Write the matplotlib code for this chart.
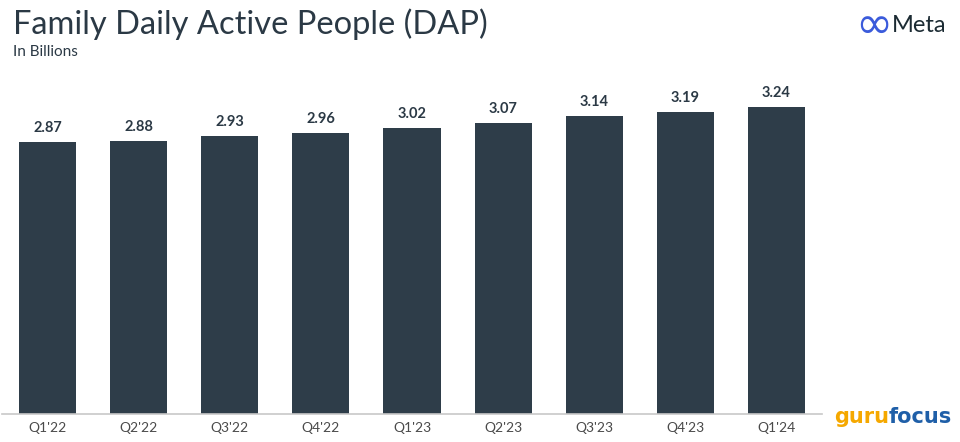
import matplotlib as mpl
mpl.use('Agg')
import matplotlib.pyplot as plt
import numpy as np

quarters = ["Q1'22", "Q2'22", "Q3'22", "Q4'22", "Q1'23",
            "Q2'23", "Q3'23", "Q4'23", "Q1'24"]
dap = [2.87, 2.88, 2.93, 2.96, 3.02, 3.07, 3.14, 3.19, 3.24]

plt.rcParams['font.family'] = ['Lato', 'DejaVu Sans']

bar_color = '#2e3d49'
text_color = '#2b3945'

fig = plt.figure(figsize=(9.6, 4.42), dpi=100)
# axes spans x 2..822 px, bottom at y=414 px
ax = fig.add_axes([2 / 960, 28 / 442, 820 / 960, 341.3 / 442])

x = np.arange(len(quarters))
ax.bar(x, dap, width=0.626, color=bar_color)
ax.set_xlim(-0.5, len(quarters) - 0.5)
ax.set_ylim(0, 3.6)

for xi, v in zip(x, dap):
    ax.annotate('%.2f' % v, xy=(xi, v), xytext=(0, 5), textcoords='offset points',
                ha='center', va='bottom', fontsize=10.5, fontweight='bold',
                color=text_color)

ax.set_xticks(x)
ax.set_xticklabels(quarters, fontsize=10, color='#4a4a4a')
ax.tick_params(axis='x', length=0, pad=6)
ax.set_yticks([])
for side in ['top', 'right', 'left']:
    ax.spines[side].set_visible(False)
ax.spines['bottom'].set_color('#c8c8c8')
ax.spines['bottom'].set_linewidth(1.2)

# title and subtitle
fig.text(13 / 960, 1 - 24 / 442, 'Family Daily Active People (DAP)', fontsize=23.5,
         color=text_color, va='center', ha='left')
fig.text(13 / 960, 1 - 52 / 442, 'In Billions', fontsize=11,
         color=text_color, va='center', ha='left')

# Meta logo
fig.text(874 / 960, 1 - 25 / 442, '\u221e', fontsize=32, color='#3b5bdb',
         ha='center', va='center', family='DejaVu Sans')
fig.text(892 / 960, 1 - 26 / 442, 'Meta', fontsize=17, color='#1c2b33',
         ha='left', va='center')

# gurufocus watermark
guru = fig.text(834 / 960, 1 - 417 / 442, 'guru', fontsize=15, color='#f5a800',
                ha='left', va='center', fontweight='bold', family='DejaVu Sans')
ax.annotate('focus', xy=(1, 0.5), xycoords=guru, ha='left', va='center',
            fontsize=15, color='#1f5fa8', fontweight='bold', family='DejaVu Sans',
            annotation_clip=False)

fig.savefig('out.png', dpi=100)
